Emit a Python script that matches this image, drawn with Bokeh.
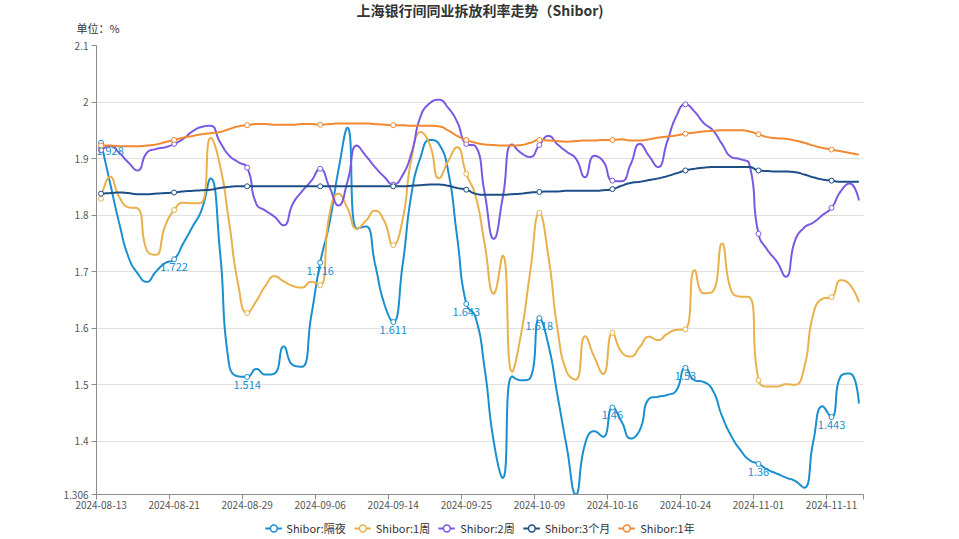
import math
from bokeh.plotting import figure
from bokeh.layouts import column
from bokeh.models import (Range1d, FixedTicker, LabelSet, Legend, LegendItem,
                          ColumnDataSource, Title)
from bokeh.core.properties import value
from bokeh.embed import file_html
from bokeh.resources import INLINE

# ---------------- data ----------------
title_text = "上海银行间同业拆放利率走势（Shibor)"
unit_text = "单位：%"
tick_idx = [0, 8, 16, 24, 32, 40, 48, 56, 64, 72, 80]
tick_labels = ["2024-08-13", "2024-08-21", "2024-08-29", "2024-09-06", "2024-09-14",
               "2024-09-25", "2024-10-09", "2024-10-16", "2024-10-24", "2024-11-01",
               "2024-11-11"]
y_ticks = [1.306, 1.4, 1.5, 1.6, 1.7, 1.8, 1.9, 2.0, 2.1]
grid_ticks = [1.4, 1.5, 1.6, 1.7, 1.8, 1.9, 2.0, 2.1]

names = ["Shibor:隔夜", "Shibor:1周", "Shibor:2周", "Shibor:3个月", "Shibor:1年"]
colors = ["#1a8fcf", "#e9b04c", "#7b58e2", "#1d4f86", "#f2882f"]

overnight = [1.928, 1.856, 1.785, 1.726, 1.697, 1.682, 1.700, 1.715, 1.722, 1.750,
             1.779, 1.809, 1.865, 1.740, 1.538, 1.515, 1.514, 1.528, 1.518, 1.520,
             1.568, 1.535, 1.532, 1.620, 1.716, 1.785, 1.880, 1.955, 1.776, 1.780,
             1.714, 1.644, 1.611, 1.709, 1.838, 1.903, 1.933, 1.926, 1.879, 1.761,
             1.643, 1.620, 1.530, 1.400, 1.335, 1.515, 1.508, 1.512, 1.618, 1.570,
             1.480, 1.390, 1.306, 1.395, 1.418, 1.408, 1.460, 1.435, 1.405, 1.420,
             1.475, 1.479, 1.482, 1.490, 1.530, 1.508, 1.505, 1.490, 1.445, 1.410,
             1.385, 1.367, 1.360, 1.350, 1.343, 1.336, 1.330, 1.318, 1.400, 1.462,
             1.443, 1.515, 1.520, 1.467]
week1 = [1.829, 1.868, 1.832, 1.814, 1.812, 1.738, 1.730, 1.780, 1.809, 1.822,
         1.821, 1.822, 1.937, 1.890, 1.790, 1.679, 1.627, 1.648, 1.675, 1.692,
         1.683, 1.675, 1.672, 1.682, 1.676, 1.800, 1.838, 1.812, 1.776, 1.790,
         1.808, 1.790, 1.747, 1.790, 1.900, 1.947, 1.925, 1.865, 1.895, 1.920,
         1.873, 1.835, 1.750, 1.661, 1.729, 1.523, 1.590, 1.700, 1.804, 1.726,
         1.597, 1.523, 1.509, 1.586, 1.550, 1.519, 1.592, 1.558, 1.550, 1.567,
         1.585, 1.579, 1.590, 1.597, 1.598, 1.703, 1.662, 1.665, 1.750, 1.667,
         1.656, 1.655, 1.508, 1.497, 1.497, 1.501, 1.500, 1.530, 1.625, 1.652,
         1.655, 1.685, 1.677, 1.646]
week2 = [1.915, 1.922, 1.910, 1.893, 1.879, 1.910, 1.917, 1.920, 1.926, 1.935,
         1.948, 1.956, 1.958, 1.930, 1.906, 1.894, 1.884, 1.820, 1.808, 1.797,
         1.782, 1.820, 1.842, 1.860, 1.882, 1.850, 1.817, 1.860, 1.923, 1.905,
         1.885, 1.868, 1.854, 1.870, 1.910, 1.975, 1.998, 2.004, 1.990, 1.965,
         1.926, 1.922, 1.840, 1.758, 1.832, 1.925, 1.910, 1.903, 1.924, 1.940,
         1.925, 1.912, 1.900, 1.867, 1.905, 1.895, 1.861, 1.860, 1.890, 1.926,
         1.905, 1.885, 1.930, 1.975, 1.996, 1.983, 1.963, 1.950, 1.926, 1.903,
         1.899, 1.890, 1.767, 1.738, 1.718, 1.691, 1.755, 1.778, 1.787, 1.800,
         1.813, 1.842, 1.856, 1.826]
month3 = [1.838, 1.839, 1.840, 1.839, 1.837, 1.837, 1.838, 1.839, 1.840, 1.842,
          1.843, 1.844, 1.845, 1.848, 1.850, 1.851, 1.851, 1.851, 1.851, 1.851,
          1.851, 1.851, 1.851, 1.851, 1.851, 1.851, 1.851, 1.851, 1.851, 1.851,
          1.851, 1.851, 1.851, 1.851, 1.852, 1.853, 1.854, 1.854, 1.852, 1.848,
          1.845, 1.838, 1.836, 1.836, 1.836, 1.837, 1.838, 1.840, 1.841, 1.842,
          1.842, 1.843, 1.843, 1.843, 1.843, 1.844, 1.846, 1.852, 1.857, 1.859,
          1.862, 1.865, 1.869, 1.874, 1.879, 1.882, 1.884, 1.885, 1.885, 1.885,
          1.885, 1.885, 1.879, 1.878, 1.877, 1.877, 1.876, 1.872, 1.867, 1.863,
          1.861, 1.859, 1.859, 1.859]
year1 = [1.923, 1.923, 1.922, 1.922, 1.922, 1.923, 1.925, 1.929, 1.933, 1.937,
         1.940, 1.943, 1.945, 1.947, 1.952, 1.957, 1.959, 1.961, 1.961, 1.960,
         1.960, 1.960, 1.961, 1.961, 1.960, 1.961, 1.962, 1.962, 1.962, 1.962,
         1.961, 1.960, 1.959, 1.959, 1.958, 1.958, 1.958, 1.957, 1.950, 1.940,
         1.933, 1.928, 1.925, 1.924, 1.923, 1.923, 1.924, 1.928, 1.933, 1.932,
         1.931, 1.930, 1.931, 1.932, 1.932, 1.933, 1.933, 1.934, 1.932, 1.932,
         1.934, 1.937, 1.939, 1.941, 1.944, 1.946, 1.948, 1.949, 1.950, 1.950,
         1.950, 1.948, 1.943, 1.938, 1.936, 1.935, 1.932, 1.928, 1.923, 1.919,
         1.916, 1.913, 1.910, 1.907]
series = [overnight, week1, week2, month3, year1]

# ---------------- layout constants ----------------
W = 959
H_MAIN, H_LEG = 517, 22
BL, BR, BT, BB = 96, 96, 45, 23
FONT = "Noto Sans CJK SC"
N = len(overnight)
X0, X1 = -0.5, N - 0.5
Y0, Y1 = 1.306, 2.1
px_per_x = (W - BL - BR) / (X1 - X0)
px_per_y = (H_MAIN - BT - BB) / (Y1 - Y0)


def smooth_curve(vals, smooth=0.5, steps=12):
    """ECharts-like constrained bezier smoothing computed in pixel space."""
    xs = [i * px_per_x for i in range(len(vals))]
    ys = [v * px_per_y for v in vals]
    n = len(xs)
    ox, oy = [xs[0]], [ys[0]]
    cp0x, cp0y = xs[0], ys[0]
    for k in range(1, n):
        x, y = xs[k], ys[k]
        px, py = xs[k - 1], ys[k - 1]
        if k == n - 1:
            cp1x, cp1y = x, y
            ncx, ncy = x, y
        else:
            nx, ny = xs[k + 1], ys[k + 1]
            vx, vy = nx - px, ny - py
            lp = math.hypot(x - px, y - py)
            ln = math.hypot(nx - x, ny - y)
            r = ln / (ln + lp)
            ncx = x + vx * smooth * r
            ncy = y + vy * smooth * r
            ncx = max(min(ncx, max(nx, x)), min(nx, x))
            ncy = max(min(ncy, max(ny, y)), min(ny, y))
            vx, vy = ncx - x, ncy - y
            cp1x = x - vx * lp / ln
            cp1y = y - vy * lp / ln
            cp1x = max(min(cp1x, max(px, x)), min(px, x))
            cp1y = max(min(cp1y, max(py, y)), min(py, y))
            vx, vy = x - cp1x, y - cp1y
            ncx = x + vx * ln / lp
            ncy = y + vy * ln / lp
        for s in range(1, steps + 1):
            t = s / steps
            a = (1 - t) ** 3
            b = 3 * (1 - t) ** 2 * t
            c = 3 * (1 - t) * t ** 2
            d = t ** 3
            ox.append(a * px + b * cp0x + c * cp1x + d * x)
            oy.append(a * py + b * cp0y + c * cp1y + d * y)
        cp0x, cp0y = ncx, ncy
    return [v / px_per_x for v in ox], [v / px_per_y for v in oy]


p = figure(width=W, height=H_MAIN, output_backend="svg", toolbar_location=None,
           x_range=Range1d(X0, X1), y_range=Range1d(Y0, Y1),
           min_border_left=BL, min_border_right=BR, min_border_top=BT,
           min_border_bottom=BB, background_fill_color="white",
           border_fill_color="white", outline_line_color=None)
p.title.visible = False

# grid
p.xgrid.visible = False
p.ygrid.ticker = FixedTicker(ticks=grid_ticks)
p.ygrid.grid_line_color = "#e0e0e0"
p.ygrid.grid_line_width = 1

# axes
axis_col = "#8c8c8c"
xa = p.xaxis[0]
xa.ticker = FixedTicker(ticks=tick_idx,
                        minor_ticks=[t - 0.5 for t in tick_idx] + [X1])
xa.major_label_overrides = {t: l for t, l in zip(tick_idx, tick_labels)}
xa.major_tick_line_color = None
xa.major_tick_out = 5
xa.major_tick_in = 0
xa.minor_tick_out = 5
xa.minor_tick_in = 0
xa.minor_tick_line_color = axis_col
xa.axis_line_color = axis_col
xa.major_label_text_font = FONT
xa.major_label_text_font_size = "10px"
xa.major_label_text_color = "#555555"
xa.major_label_standoff = 1

ya = p.yaxis[0]
ya.ticker = FixedTicker(ticks=y_ticks)
ya.major_label_overrides = {t: f"{t:g}" for t in y_ticks}
ya.minor_tick_line_color = None
ya.major_tick_out = 5
ya.major_tick_in = 0
ya.major_tick_line_color = axis_col
ya.axis_line_color = axis_col
ya.major_label_text_font = FONT
ya.major_label_text_font_size = "10px"
ya.major_label_text_color = "#555555"
ya.major_label_standoff = 3

# unit (inner) and title (outer) in the top panel
p.add_layout(Title(text=unit_text, align="left", offset=-20, standoff=20,
                   text_font=FONT, text_font_size="11px", text_font_style="normal",
                   text_color="#333333"), "above")
p.add_layout(Title(text=title_text, align="center", standoff=-25,
                   text_font=FONT, text_font_size="14px", text_font_style="bold",
                   text_color="#333333"), "above")

# series
idx = list(range(N))
for vals, col in zip(series, colors):
    sx, sy = smooth_curve(vals)
    p.line(sx, sy, line_color=col, line_width=2)
    p.scatter(idx[::8], vals[::8], size=5, marker="circle", fill_color="white",
              line_color=col, line_width=1)

# labels on overnight series
lab_vals = overnight[::8]
lab_src = ColumnDataSource(dict(x=idx[::8], y=lab_vals,
                                t=[f"{v:g}" for v in lab_vals],
                                dx=[9 if i == 0 else 0 for i in range(len(lab_vals))]))
p.add_layout(LabelSet(x="x", y="y", text="t", source=lab_src, x_offset="dx",
                      text_font=value(FONT), text_font_size=value("11px"),
                      text_color=colors[0], text_align="center",
                      text_baseline="top", y_offset=-4))

# legend in its own strip below (placeholder renderers hold no visible point)
leg = figure(width=W, height=H_LEG, output_backend="svg", toolbar_location=None,
             x_range=Range1d(0, 1), y_range=Range1d(0, 1), x_axis_type=None,
             y_axis_type=None, min_border=0, outline_line_color=None,
             background_fill_color="white", border_fill_color="white")
leg.grid.visible = False
items = []
nan = float("nan")
for name, col in zip(names, colors):
    lr = leg.line(x=[nan], y=[nan], line_color=col, line_width=2)
    sr = leg.scatter(x=[nan], y=[nan], marker="circle", fill_color="white",
                     line_color=col, line_width=1.5)
    items.append(LegendItem(label=name, renderers=[lr, sr]))
legend = Legend(items=items, orientation="horizontal", location="center",
                glyph_width=17, glyph_height=20, label_standoff=5, spacing=8,
                padding=0, margin=0, border_line_alpha=0, background_fill_alpha=0,
                label_text_font=FONT, label_text_font_size="11px",
                label_text_color="#333333")
leg.add_layout(legend, "center")

layout = column(p, leg, spacing=0)
open("out.html", "w").write(file_html(layout, INLINE))
